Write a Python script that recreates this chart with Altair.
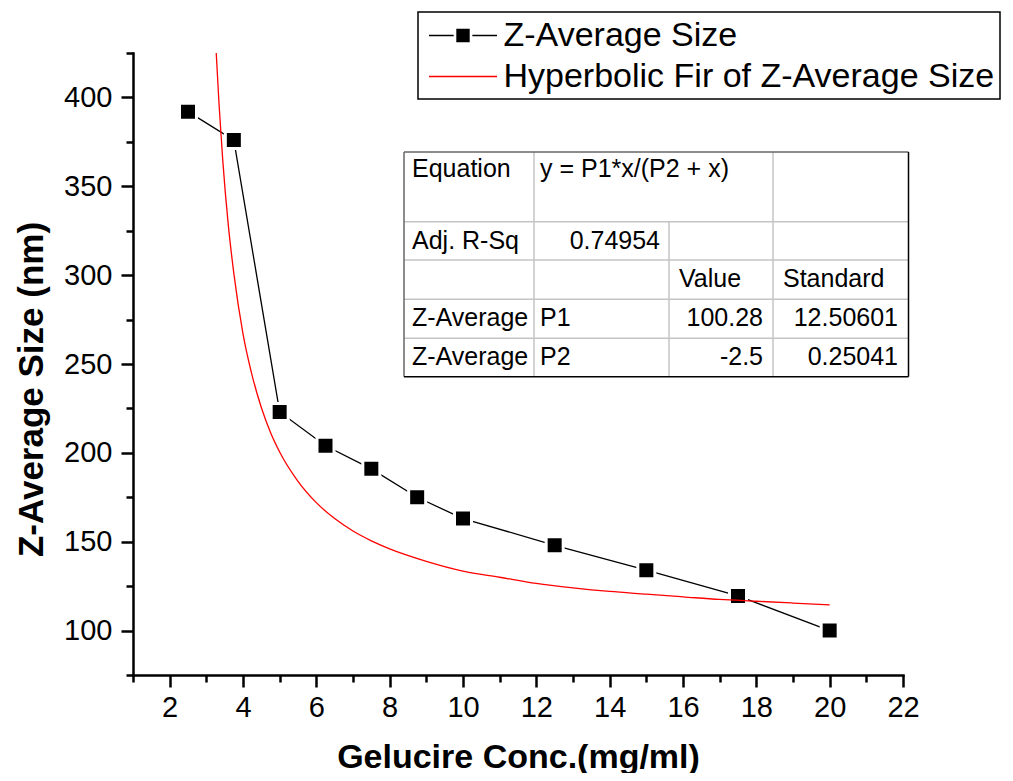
import altair as alt
import pandas as pd

# ---------------- data ----------------
S1 = "Z-Average Size"
S2 = "Hyperbolic Fir of Z-Average Size"

conc = [2.5, 3.75, 5.0, 6.25, 7.5, 8.75, 10.0, 12.5, 15.0, 17.5, 20.0]
zavg = [392, 376, 223, 204, 191, 175, 163, 148, 134, 119.5, 100]

fit_x = [3.27, 3.35, 3.45, 3.6, 3.75, 4.0, 4.25, 4.5, 4.75, 5.0, 5.5, 6.0, 6.5,
         7.0, 7.5, 8.0, 9.0, 10.0, 11.0, 12.0, 13.0, 14.0, 15.0, 16.0, 17.0,
         18.0, 19.0, 20.0]
fit_y = [425, 395, 364, 328, 301, 267, 243.5, 225.5, 211.5, 200.5, 184, 172, 163,
         156, 150.5, 146, 139, 133.5, 130, 126.5, 124, 122, 120.5, 119, 117.5,
         116.5, 115.5, 114.5]

x_major = [2, 4, 6, 8, 10, 12, 14, 16, 18, 20, 22]
x_minor = [1, 3, 5, 7, 9, 11, 13, 15, 17, 19, 21]
y_major = [100, 150, 200, 250, 300, 350, 400]
y_minor = [75, 125, 175, 225, 275, 325, 375, 425]

table_left_text = ["Equation", "y = P1*x/(P2 + x)", "Adj. R-Sq", "Value", "Standard",
                   "Z-Average", "P1", "Z-Average", "P2"]
table_right_text = ["0.74954", "100.28", "12.50601", "-2.5", "0.25041"]

# ---------------- layout of the inset table (pixels from plot origin) ----------------
W, H = 770, 622
col = [271, 401, 536, 640, 775.5]
row = [99, 168.7, 207, 246.3, 285.3, 323.7]
base = [124, 195.5, 234, 273, 311.5]
left_pos = [(279, base[0]), (407, base[0]), (279, base[1]), (546, base[2]), (650, base[2]),
            (279, base[3]), (407, base[3]), (279, base[4]), (407, base[4])]
right_pos = [(527, base[1]), (630, base[3]), (765, base[3]), (630, base[4]), (765, base[4])]

FONT = "Liberation Sans"

df = pd.DataFrame({"conc": conc, "size": zavg, "series": S1})
fit_df = pd.DataFrame({"conc": fit_x, "size": fit_y, "series": S2})
all_df = pd.concat([df, fit_df], ignore_index=True)

xscale = alt.Scale(domain=[1, 22], nice=False, zero=False)
yscale = alt.Scale(domain=[75, 425], nice=False, zero=False)

x_axis = alt.Axis(values=x_major, title="Gelucire Conc.(mg/ml)", tickSize=12, tickWidth=2.5,
                  tickColor="black", domainColor="black", domainWidth=2.5, domainCap="square",
                  labelFont=FONT, labelFontSize=29, labelColor="black", labelPadding=6,
                  labelFlush=False, labelOverlap=False, grid=False,
                  titleFont=FONT, titleFontSize=34, titleFontWeight="bold", titleColor="black",
                  titleBaseline="alphabetic", titleY=92)
y_axis = alt.Axis(values=y_major, title="Z-Average Size (nm)", tickSize=12, tickWidth=2.5,
                  tickColor="black", domainColor="black", domainWidth=2.5, domainCap="square",
                  labelFont=FONT, labelFontSize=29, labelColor="black", labelPadding=9,
                  labelOverlap=False, grid=False,
                  titleFont=FONT, titleFontSize=35, titleFontWeight="bold", titleColor="black",
                  titleAngle=270, titleAlign="center", titleBaseline="alphabetic",
                  titleX=-91, titleY=336)

X = alt.X("conc:Q", scale=xscale, axis=x_axis)
Y = alt.Y("size:Q", scale=yscale, axis=y_axis)

data_line = alt.Chart(df).mark_line(color="black", strokeWidth=1.3).encode(x=X, y=Y)
squares = alt.Chart(df).mark_point(shape="square", filled=True, fill="black", stroke="white",
                                   strokeWidth=3, size=289, opacity=1).encode(x=X, y=Y)
fit_line = alt.Chart(fit_df).mark_line(color="red", strokeWidth=1.3,
                                       interpolate="monotone").encode(x=X, y=Y)

PATH_A = "M-2,0L-0.55,0M-0.35,-0.35L0.35,-0.35L0.35,0.35L-0.35,0.35ZM0.55,0L2,0"
PATH_B = "M-2,0L2,0"
leg = alt.Legend(title=None, orient="none", legendX=285, legendY=-41, labelFont=FONT,
                 labelFontSize=34, labelColor="black", labelLimit=800, symbolSize=1156,
                 symbolStrokeWidth=1.5, symbolOffset=21.5, labelOffset=22.5, padding=5.5,
                 rowPadding=6, strokeColor="black", fillColor="white")
cscale = alt.Scale(domain=[S1, S2], range=["black", "red"])
legend_layer = alt.Chart(all_df).transform_filter("false").mark_point(
    filled=True, opacity=1, strokeWidth=1.5).encode(
    x=X, y=Y,
    fill=alt.Fill("series:N", scale=cscale, legend=leg),
    stroke=alt.Stroke("series:N", scale=cscale, legend=leg),
    shape=alt.Shape("series:N", scale=alt.Scale(domain=[S1, S2], range=[PATH_A, PATH_B]), legend=leg),
)

minor = alt.Chart(df).transform_filter("false").mark_point().encode(
    x=alt.X("conc:Q", scale=xscale,
            axis=alt.Axis(values=x_minor, tickSize=7, tickWidth=2.5, tickColor="black",
                          labels=False, domain=False, grid=False, title=None, orient="bottom")),
    y=alt.Y("size:Q", scale=yscale,
            axis=alt.Axis(values=y_minor, tickSize=7, tickWidth=2.5, tickColor="black",
                          labels=False, domain=False, grid=False, title=None, orient="left")),
)

inner = alt.layer(alt.layer(data_line, squares, fit_line, legend_layer), minor).resolve_axis(
    x="independent", y="independent")

# ---------------- inset table ----------------
tx = alt.Scale(domain=[0, W], range=[0, W], nice=False, zero=False)
ty = alt.Scale(domain=[0, H], range=[0, H], nice=False, zero=False)

inner_lines = pd.DataFrame([
    {"x": col[0], "x2": col[4], "y": row[1], "y2": row[1]},
    {"x": col[0], "x2": col[4], "y": row[2], "y2": row[2]},
    {"x": col[0], "x2": col[4], "y": row[3], "y2": row[3]},
    {"x": col[0], "x2": col[4], "y": row[4], "y2": row[4]},
    {"x": col[1], "x2": col[1], "y": row[0], "y2": row[5]},
    {"x": col[2], "x2": col[2], "y": row[1], "y2": row[5]},
    {"x": col[3], "x2": col[3], "y": row[0], "y2": row[5]},
])
tl_lines = pd.DataFrame([
    {"x": col[0], "x2": col[4], "y": row[0], "y2": row[0]},
    {"x": col[0], "x2": col[0], "y": row[0], "y2": row[5]},
])
br_lines = pd.DataFrame([
    {"x": col[0], "x2": col[4], "y": row[5], "y2": row[5]},
    {"x": col[4], "x2": col[4], "y": row[0], "y2": row[5]},
])


def rules(d, color, width):
    return alt.Chart(d).mark_rule(color=color, strokeWidth=width).encode(
        x=alt.X("x:Q", scale=tx, axis=None), x2="x2:Q",
        y=alt.Y("y:Q", scale=ty, axis=None), y2="y2:Q")


left_df = pd.DataFrame({"t": table_left_text, "x": [p[0] for p in left_pos],
                        "y": [p[1] for p in left_pos]})
right_df = pd.DataFrame({"t": table_right_text, "x": [p[0] for p in right_pos],
                         "y": [p[1] for p in right_pos]})


def texts(d, align):
    return alt.Chart(d).mark_text(align=align, baseline="alphabetic", font=FONT, fontSize=25,
                                  color="black").encode(
        x=alt.X("x:Q", scale=tx, axis=None), y=alt.Y("y:Q", scale=ty, axis=None), text="t:N")


table = alt.layer(rules(inner_lines, "#c4c4c4", 1.5), rules(tl_lines, "#666666", 1.5),
                  rules(br_lines, "black", 1.5), texts(left_df, "left"), texts(right_df, "right"))

chart = alt.layer(inner, table).resolve_scale(x="independent", y="independent").properties(
    width=W, height=H,
    autosize=alt.AutoSizeParams(type="none"),
    padding={"left": 125, "top": 45, "right": 102, "bottom": 98},
    background="white",
).configure_view(strokeWidth=0).configure_legend(strokeWidth=1.5)

chart.save("out.html", embed_options={"renderer": "svg", "actions": False})
